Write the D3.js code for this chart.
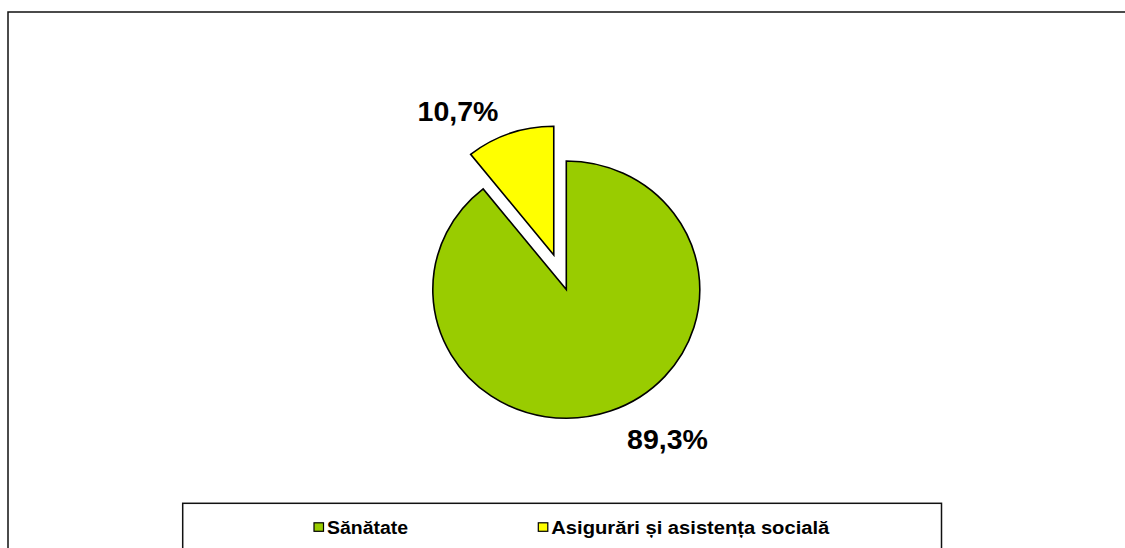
<!DOCTYPE html>
<html>
<head>
<meta charset="utf-8">
<script src="https://cdn.jsdelivr.net/npm/d3@7"></script>
<style>
  html, body { margin: 0; padding: 0; background: #fff; }
  svg { display: block; }
</style>
</head>
<body>
<svg id="chart" width="1125" height="548"></svg>
<script>
// ---- data ----
const categories = ["Sănătate", "Asigurări și asistența socială"];
const values = [89.3, 10.7];
const labels = ["89,3%", "10,7%"];
const colors = ["#99CC00", "#FFFF00"];
const explode = [0, 38];

// ---- layout ----
const W = 1125, H = 548;
const cx = 566.3, cy = 289.6, rx = 133.5, ry = 128.7;
const svg = d3.select("#chart");

// outer frame (extends past right & bottom edges)
svg.append("rect")
  .attr("x", 8).attr("y", 12)
  .attr("width", W + 20).attr("height", H + 20)
  .attr("fill", "none").attr("stroke", "#111").attr("stroke-width", 1.5);

const pie = d3.pie().sort(null).value(d => d)(values);
const arc = d3.arc().innerRadius(0).outerRadius(rx);

const g = svg.append("g")
  .attr("transform", `translate(${cx},${cy}) scale(1,${ry / rx})`);

g.selectAll("path").data(pie).enter().append("path")
  .attr("d", arc)
  .attr("fill", (d, i) => colors[i])
  .attr("stroke", "#000")
  .attr("stroke-width", 1.6)
  .attr("stroke-linejoin", "miter")
  .attr("transform", (d, i) => {
    const a = (d.startAngle + d.endAngle) / 2;
    return `translate(${Math.sin(a) * explode[i]},${-Math.cos(a) * explode[i]})`;
  });

// data labels (positions relative to pie centre)
const labelPos = [[101.2, 159.4], [-108.3, -168.6]];
svg.selectAll("text.lbl").data(labels).enter().append("text")
  .attr("class", "lbl")
  .attr("x", (d, i) => cx + labelPos[i][0])
  .attr("y", (d, i) => cy + labelPos[i][1])
  .attr("text-anchor", "middle")
  .attr("font-family", "Liberation Sans, Arial, sans-serif")
  .attr("font-weight", "bold")
  .attr("font-size", 28.5)
  .attr("fill", "#000")
  .text(d => d);

// legend
const lg = svg.append("g");
lg.append("rect")
  .attr("x", 182.7).attr("y", 503.3)
  .attr("width", 941.5 - 182.7).attr("height", 60)
  .attr("fill", "#fff").attr("stroke", "#111").attr("stroke-width", 1.5);

const legX = [314, 538.3];
const legW = [81, 278];
categories.forEach((c, i) => {
  lg.append("rect")
    .attr("x", legX[i]).attr("y", 522.8)
    .attr("width", 9.5).attr("height", 8.5)
    .attr("fill", colors[i]).attr("stroke", "#000").attr("stroke-width", 1.2);
  lg.append("text")
    .attr("x", legX[i] + 13).attr("y", 533.5)
    .attr("font-family", "Liberation Sans, Arial, sans-serif")
    .attr("font-weight", "bold")
    .attr("font-size", 17.5)
    .attr("textLength", legW[i])
    .attr("lengthAdjust", "spacingAndGlyphs")
    .attr("fill", "#000")
    .text(c);
});
</script>
</body>
</html>
